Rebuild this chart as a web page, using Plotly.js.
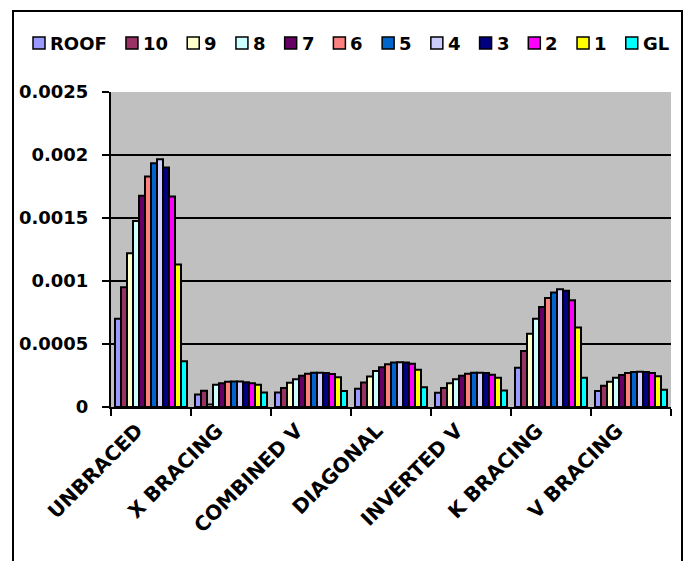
<!DOCTYPE html>
<html>
<head>
<meta charset="utf-8">
<script src="https://cdn.plot.ly/plotly-3.0.1.min.js"></script>
<style>
  html, body { margin: 0; padding: 0; background: #fff; }
  #wrap { position: relative; width: 684px; height: 561px; overflow: hidden; }
  #chart { width: 684px; height: 561px; }
  #frame { position: absolute; left: 12px; top: 10px; width: 667px; height: 600px;
           border: 2px solid #000; pointer-events: none; }
</style>
</head>
<body>
<div id="wrap"><div id="chart"></div><div id="frame"></div></div>
<script>
// Categories (bracing systems)
const categories = ["UNBRACED", "X BRACING", "COMBINED V", "DIAGONAL", "INVERTED V", "K BRACING", "V BRACING"];

// Series names (storey levels)
const seriesNames = ["ROOF", "10", "9", "8", "7", "6", "5", "4", "3", "2", "1", "GL"];

// Series values, one per storey level, across categories
const roofVals = [0.00070, 0.000100, 0.000115, 0.000145, 0.000113, 0.000312, 0.000126];
const s10Vals  = [0.00095, 0.000128, 0.000150, 0.000195, 0.000150, 0.000444, 0.000168];
const s9Vals   = [0.00122, 0.000020, 0.000192, 0.000242, 0.000189, 0.000582, 0.000200];
const s8Vals   = [0.001476, 0.000176, 0.000221, 0.000285, 0.000221, 0.000701, 0.000232];
const s7Vals   = [0.001677, 0.000189, 0.000248, 0.000316, 0.000248, 0.000793, 0.000253];
const s6Vals   = [0.00183, 0.000200, 0.000264, 0.000340, 0.000264, 0.000865, 0.000269];
const s5Vals   = [0.001935, 0.000203, 0.000272, 0.000354, 0.000272, 0.000908, 0.000277];
const s4Vals   = [0.001967, 0.000203, 0.000272, 0.000356, 0.000272, 0.000934, 0.000280];
const s3Vals   = [0.00190, 0.000197, 0.000269, 0.000354, 0.000269, 0.000923, 0.000277];
const s2Vals   = [0.00167, 0.000189, 0.000261, 0.000343, 0.000256, 0.000847, 0.000269];
const s1Vals   = [0.00113, 0.000176, 0.000237, 0.000296, 0.000232, 0.000630, 0.000245];
const glVals   = [0.000363, 0.000115, 0.000126, 0.000157, 0.000131, 0.000232, 0.000137];

// Y-axis ticks
const yTickVals = [0, 0.0005, 0.001, 0.0015, 0.002, 0.0025];
const yTickText = ["0", "0.0005", "0.001", "0.0015", "0.002", "0.0025"];

// Colors (Excel classic palette)
const seriesColors = ["#9999FF", "#993366", "#FFFFCC", "#CCFFFF", "#660066", "#FF8080",
                      "#0066CC", "#CCCCFF", "#000080", "#FF00FF", "#FFFF00", "#00FFFF"];

const allVals = [roofVals, s10Vals, s9Vals, s8Vals, s7Vals, s6Vals, s5Vals, s4Vals, s3Vals, s2Vals, s1Vals, glVals];

const FONT = "DejaVu Sans";

const traces = seriesNames.map((name, i) => ({
  type: "bar",
  name: name,
  x: categories,
  y: allVals[i],
  marker: { color: seriesColors[i], line: { color: "#000", width: 2 } },
  showlegend: false,
  hoverinfo: "x+y+name"
}));

// Plot area geometry in px
const W = 684, H = 561;
const mL = 111, mR = 13, mT = 92, mB = 154;
const plotW = W - mL - mR, plotH = H - mT - mB;

// Custom single-row legend, laid out by measured text widths
const legendFontSize = 18;
const ctx = document.createElement("canvas").getContext("2d");
ctx.font = "bold " + legendFontSize + "px '" + FONT + "'";
const textW = seriesNames.map(n => ctx.measureText(n).width);
const legStart = 33, legEnd = 669, box = 12, boxGap = 5;
const totalEntries = textW.reduce((a, w) => a + box + boxGap + w, 0);
const gap = (legEnd - legStart - totalEntries) / (seriesNames.length - 1);
const legY = 43;
const toPX = px => (px - mL) / plotW;
const toPY = py => (H - mB - py) / plotH;

const shapes = [], annotations = [];
let cur = legStart;
seriesNames.forEach((n, i) => {
  shapes.push({
    type: "rect", xref: "paper", yref: "paper",
    xsizemode: "pixel", ysizemode: "pixel",
    xanchor: toPX(cur), yanchor: toPY(legY),
    x0: 0, x1: box, y0: -box / 2, y1: box / 2,
    fillcolor: seriesColors[i], line: { color: "#000", width: 1.5 }
  });
  annotations.push({
    xref: "paper", yref: "paper", x: toPX(cur + box + boxGap - 2), y: toPY(legY),
    xanchor: "left", yanchor: "middle", showarrow: false,
    text: n, font: { family: FONT, size: legendFontSize, color: "#000", weight: "bold" }
  });
  cur += box + boxGap + textW[i] + gap;
});

const layout = {
  width: W, height: H,
  margin: { l: mL, r: mR, t: mT, b: mB, pad: 0 },
  paper_bgcolor: "#ffffff",
  plot_bgcolor: "#C0C0C0",
  barmode: "group",
  bargap: 0.1,
  bargroupgap: 0,
  showlegend: false,
  font: { family: FONT, color: "#000" },
  xaxis: {
    type: "category",
    tickson: "boundaries",
    ticks: "outside", ticklen: 7, tickwidth: 2, tickcolor: "#000",
    showline: true, linecolor: "#000", linewidth: 2,
    showgrid: false, zeroline: false,
    tickangle: -45,
    ticklabelshift: -14,
    ticklabelstandoff: 2,
    tickfont: { family: FONT, size: 20, color: "#000", weight: "bold" }
  },
  yaxis: {
    range: [0, 0.0025],
    tickvals: yTickVals, ticktext: yTickText,
    ticks: "outside", ticklen: 7, tickwidth: 2, tickcolor: "#000",
    showline: true, linecolor: "#000", linewidth: 2,
    showgrid: true, gridcolor: "#000", gridwidth: 2,
    zeroline: false,
    ticklabelstandoff: 10,
    tickfont: { family: FONT, size: 18, color: "#000", weight: "bold" }
  },
  shapes: shapes,
  annotations: annotations
};

Plotly.newPlot("chart", traces, layout, { displayModeBar: false, staticPlot: true });
</script>
</body>
</html>
